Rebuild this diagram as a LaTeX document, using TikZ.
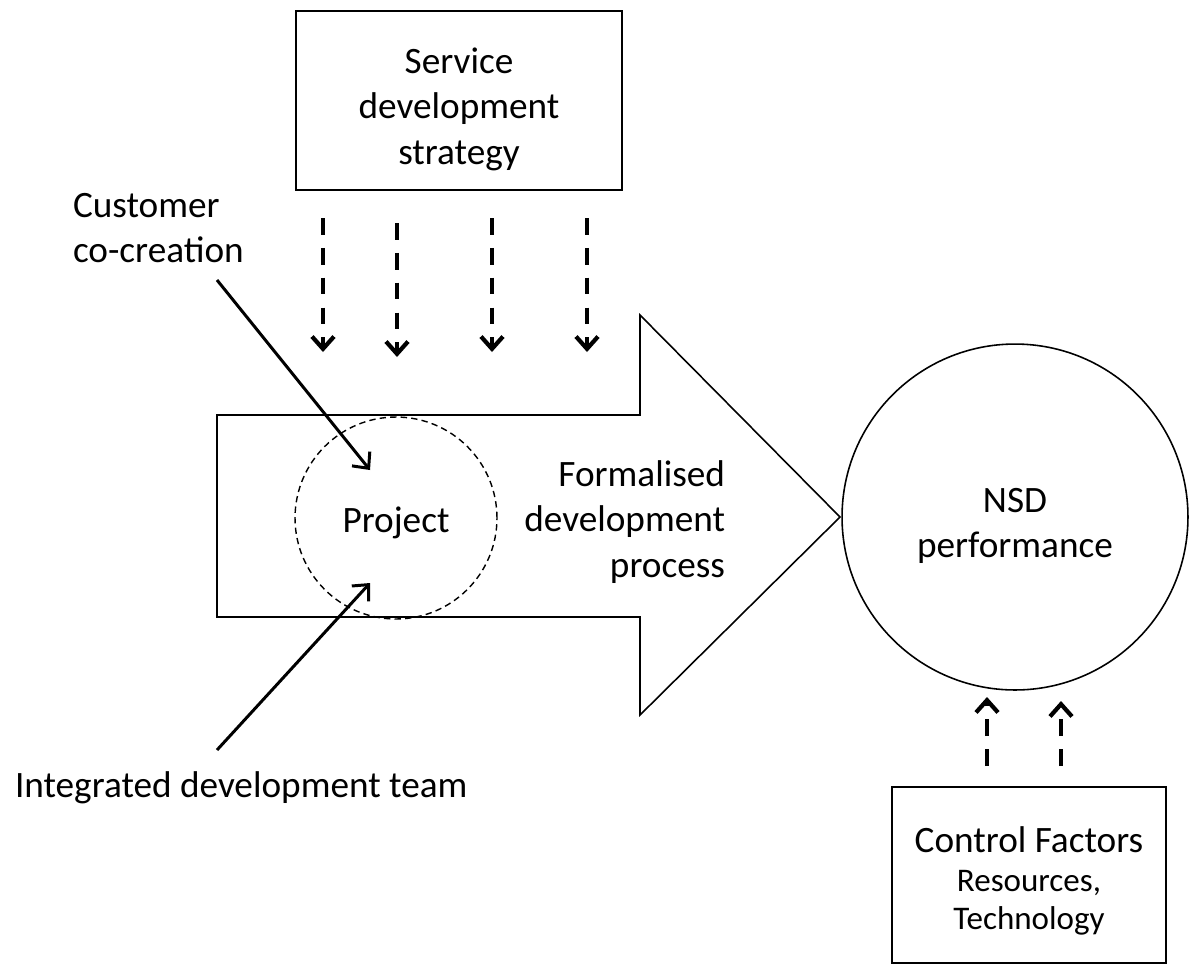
\documentclass[tikz,border=0pt]{standalone}
\usepackage{fontspec}
\setmainfont{Carlito}
\usetikzlibrary{arrows.meta}
\begin{document}
\begin{tikzpicture}[x=0.02cm,y=-0.02cm,
  every node/.style={inner sep=0pt, outer sep=0pt},
  txt/.style={font=\fontsize{21.2}{25.9}\selectfont},
  smalltxt/.style={font=\fontsize{18.8}{22}\selectfont},
  frame/.style={draw, line width=1pt, rectangle},
  outline/.style={draw, line width=0.9pt, line join=miter},
  influence/.style={line width=1.7pt, -{Straight Barb[length=7pt,width=13pt]}},
  guide/.style={line width=2.1pt, dash pattern=on 9.5pt off 7.5pt,
    -{Straight Barb[length=7pt,width=12.5pt,line width=2.4pt]}},
]
% canvas
\fill[white] (0,0) rectangle (1190,965);
\useasboundingbox (0,0) rectangle (1190,965);

% strategy box
\node[frame, minimum width=6.52cm, minimum height=3.58cm] (strat) at (459,100.5) {};
\node[txt, align=center] (stratText) at (459,109) {Service\\development\\strategy};

% big process arrow
\draw[outline] (217,415) -- (640,415) -- (640,315) -- (840,517)
  -- (640,715) -- (640,617) -- (217,617) -- cycle;
\node[txt, align=right, anchor=east] (process) at (725,522)
  {Formalised\\development\\process};

% project circle
\node[circle, draw, line width=0.8pt, dash pattern=on 3.6pt off 2.4pt,
  minimum size=4.04cm] (project) at (396,518) {};
\node[txt] (projectText) at (396,523) {Project};

% performance circle
\node[circle, draw, line width=0.9pt, minimum size=6.92cm] (nsd) at (1015,517) {};
\node[txt, align=center] (nsdText) at (1015,526) {NSD\\performance};

% control factors box
\node[frame, minimum width=5.48cm, minimum height=3.52cm] (ctrl) at (1029,875) {};
\node[smalltxt, align=center] (ctrlText) at (1029,881)
  {{\fontsize{21.2}{21.2}\selectfont Control Factors}\\Resources,\\Technology};

% side labels
\node[txt, align=left, anchor=west] (cust) at (73,228) {Customer\\co-creation};
\node[txt, anchor=base west] (team) at (15,797) {Integrated development team};

% strategy guidance arrows
\coordinate (s1) at (323,218); \coordinate (t1) at (323,352);
\coordinate (s2) at (397,223); \coordinate (t2) at (397,357);
\coordinate (s3) at (492,218); \coordinate (t3) at (492,352);
\coordinate (s4) at (587,218); \coordinate (t4) at (587,352);
\foreach \i in {1,...,4} \draw[guide] (s\i) -- (t\i);

% inputs into the project
\coordinate (custStart) at (217,280);
\coordinate (custEnd) at (370,470);
\draw[influence] (custStart) -- (custEnd);
\coordinate (teamStart) at (217,750);
\coordinate (teamEnd) at (370,583);
\draw[influence] (teamStart) -- (teamEnd);

% control factor arrows
\coordinate (c1) at (987,766); \coordinate (d1) at (987,697);
\coordinate (c2) at (1061,766); \coordinate (d2) at (1061,701);
\draw[guide] (c1) -- (d1);
\draw[guide] (c2) -- (d2);
\end{tikzpicture}
\end{document}
